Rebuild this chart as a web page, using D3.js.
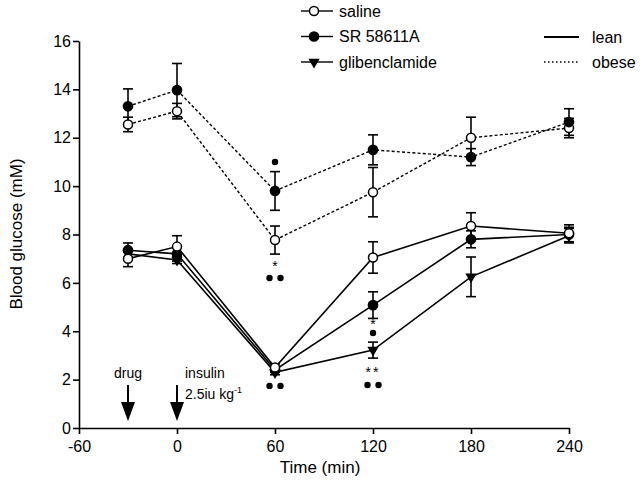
<!DOCTYPE html>
<html><head><meta charset="utf-8">
<script src="https://cdn.jsdelivr.net/npm/d3@7/dist/d3.min.js"></script>
<style>body{margin:0;background:#fff}svg{display:block}text{font-family:"Liberation Sans",Arial,sans-serif;fill:#000}</style>
</head><body><svg id="c" width="640" height="489"></svg>
<script>
const times = [-30, 0, 60, 120, 180, 240];
const xTicks = [-60, 0, 60, 120, 180, 240];
const yTicks = [0, 2, 4, 6, 8, 10, 12, 14, 16];
// lean (solid)
const leanSaline = [7.0, 7.5, 2.5, 7.05, 8.35, 8.05];
const leanSalineErr = [0.33, 0.45, 0.15, 0.65, 0.55, 0.35];
const leanSR = [7.35, 7.2, 2.4, 5.08, 7.8, 8.0];
const leanSRErr = [0.3, 0.3, 0.1, 0.55, 0.35, 0.3];
const leanGlib = [7.2, 6.95, 2.3, 3.22, 6.25, 7.95];
const leanGlibErr = [0.2, 0.15, 0.1, 0.33, 0.82, 0.3];
// obese (dotted)
const obeseSaline = [12.55, 13.1, 7.77, 9.75, 12.0, 12.4];
const obeseSalineErr = [0.3, 0.32, 0.58, 1.02, 0.85, 0.4];
const obeseSR = [13.3, 13.97, 9.8, 11.5, 11.2, 12.65];
const obeseSRErr = [0.72, 1.1, 0.8, 0.62, 0.35, 0.55];
// significance stars: [time, value, text]; dots: [time, value, count]
const sigStars = [[60, 6.75, "*"], [120, 4.35, "*"], [120, 2.35, "**"]];
const sigDots = [[60, 11.0, 1], [60, 6.2, 2], [60, 1.74, 2], [120, 3.93, 1], [120, 1.78, 2]];

const svg = d3.select("#c");
const x = d3.scaleLinear().domain([-60, 240]).range([79, 569]);
const y = d3.scaleLinear().domain([0, 16]).range([428, 41]);

// axes
const xa = svg.append("g").attr("transform", "translate(0,428)")
  .call(d3.axisBottom(x).tickValues(xTicks).tickFormat(d => String(d)).tickSize(6).tickPadding(4).tickSizeOuter(0));
const ya = svg.append("g").attr("transform", "translate(79,0)")
  .call(d3.axisLeft(y).tickValues(yTicks).tickFormat(d => String(d)).tickSize(6).tickPadding(2).tickSizeOuter(0));
[xa, ya].forEach(a => {
  a.selectAll("path,line").attr("stroke", "#000").attr("stroke-width", 1.6);
  a.selectAll("text").attr("font-size", 16).attr("font-family", '"Liberation Sans",Arial,sans-serif').attr("fill", "#000");
});
xa.selectAll("text").attr("dy", "0.85em");

svg.append("text").attr("x", 320).attr("y", 473).attr("text-anchor", "middle").attr("font-size", 17).text("Time (min)");
svg.append("text").attr("transform", "translate(22,234) rotate(-90)").attr("text-anchor", "middle").attr("font-size", 17).text("Blood glucose (mM)");

const series = [
  {v: obeseSaline, e: obeseSalineErr, m: "open", dash: "3,2.2", w: 1.4},
  {v: obeseSR, e: obeseSRErr, m: "filled", dash: "3,2.2", w: 1.4},
  {v: leanGlib, e: leanGlibErr, m: "tri", dash: null, w: 1.6},
  {v: leanSR, e: leanSRErr, m: "filled", dash: null, w: 1.6},
  {v: leanSaline, e: leanSalineErr, m: "open", dash: null, w: 1.6},
];
const line = d3.line().x((d, i) => x(times[i])).y(d => y(d));
series.forEach(s => {
  svg.append("path").attr("d", line(s.v)).attr("fill", "none").attr("stroke", "#000")
    .attr("stroke-width", s.w).attr("stroke-dasharray", s.dash);
});
series.forEach(s => {
  const g = svg.append("g");
  s.v.forEach((v, i) => {
    const cx = x(times[i]);
    g.append("line").attr("x1", cx).attr("x2", cx).attr("y1", y(v - s.e[i])).attr("y2", y(v + s.e[i])).attr("stroke", "#000").attr("stroke-width", 1.6);
    [v - s.e[i], v + s.e[i]].forEach(c => g.append("line").attr("x1", cx - 5).attr("x2", cx + 5).attr("y1", y(c)).attr("y2", y(c)).attr("stroke", "#000").attr("stroke-width", 1.6));
  });
});
function marker(g, type, cx, cy) {
  if (type === "tri") {
    g.append("path").attr("d", d3.symbol().type(d3.symbolTriangle).size(55)()).attr("transform", `translate(${cx},${cy}) rotate(180)`).attr("fill", "#000");
  } else {
    g.append("circle").attr("cx", cx).attr("cy", cy).attr("r", type === "open" ? 4.5 : 4.6)
      .attr("fill", type === "open" ? "#fff" : "#000").attr("stroke", "#000").attr("stroke-width", 1.5);
  }
}
series.forEach(s => {
  const g = svg.append("g");
  s.v.forEach((v, i) => marker(g, s.m, x(times[i]), y(v)));
});

// significance markers
sigStars.forEach(([t, v, txt]) => {
  svg.append("text").attr("x", x(t)).attr("y", y(v) + 6).attr("text-anchor", "middle")
    .attr("font-size", 14).attr("letter-spacing", txt.length > 1 ? 2 : 0).text(txt);
});
sigDots.forEach(([t, v, n]) => {
  const offs = n === 1 ? [0] : [-5.5, 5.5];
  offs.forEach(o => svg.append("circle").attr("cx", x(t) + o).attr("cy", y(v)).attr("r", 3.2).attr("fill", "#000"));
});

// arrows
function arrow(t) {
  const cx = x(t);
  svg.append("line").attr("x1", cx).attr("x2", cx).attr("y1", 385).attr("y2", 404).attr("stroke", "#000").attr("stroke-width", 2);
  svg.append("path").attr("d", `M${cx - 7},402 L${cx + 7},402 L${cx},421 Z`).attr("fill", "#000");
}
arrow(-30); arrow(0);
svg.append("text").attr("x", x(-30)).attr("y", 378).attr("text-anchor", "middle").attr("font-size", 14).text("drug");
svg.append("text").attr("x", 185).attr("y", 378).attr("font-size", 14).text("insulin");
const t2 = svg.append("text").attr("x", 185).attr("y", 399).attr("font-size", 14);
t2.append("tspan").text("2.5iu kg");
t2.append("tspan").attr("font-size", 9).attr("dy", -6).text("-1");

// legend
const legendNames = ["saline", "SR 58611A", "glibenclamide"];
const legendMarks = ["open", "filled", "tri"];
legendNames.forEach((n, i) => {
  const ly = 11 + i * 25.5;
  svg.append("line").attr("x1", 301).attr("x2", 333).attr("y1", ly).attr("y2", ly).attr("stroke", "#000").attr("stroke-width", 1.4);
  marker(svg, legendMarks[i], 314, ly);
  svg.append("text").attr("x", 339).attr("y", ly).attr("dominant-baseline", "central").attr("font-size", 16).text(n);
});
const styleNames = ["lean", "obese"];
styleNames.forEach((n, i) => {
  const ly = 37 + i * 25;
  svg.append("line").attr("x1", 544).attr("x2", 579).attr("y1", ly).attr("y2", ly).attr("stroke", "#000")
    .attr("stroke-width", i === 0 ? 2.2 : 1.4).attr("stroke-dasharray", i === 0 ? null : "1.5,2.5");
  svg.append("text").attr("x", 592).attr("y", ly).attr("dominant-baseline", "central").attr("font-size", 16).text(n);
});
</script></body></html>
